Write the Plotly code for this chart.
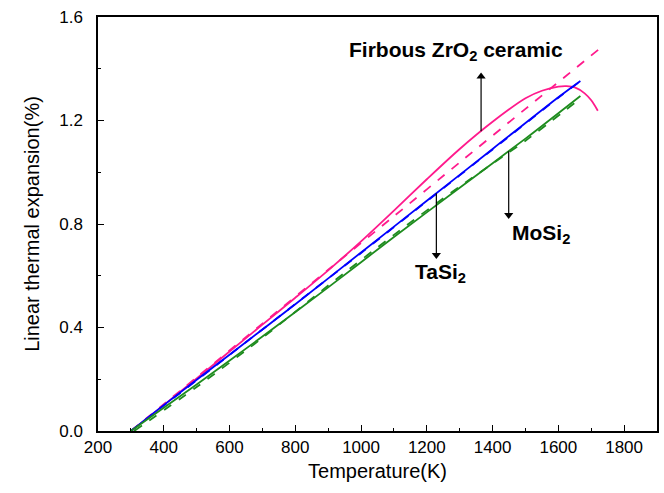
import numpy as np
import plotly.graph_objects as go

# Fibrous ZrO2 ceramic (measured, solid) and fit (dashed)
zro2_T = [300, 400, 500, 600, 700, 800, 900, 1000, 1100, 1200, 1300, 1400, 1500, 1550, 1600, 1625, 1650, 1680, 1700, 1720]
zro2_E = [0.0, 0.10, 0.203, 0.307, 0.411, 0.515, 0.621, 0.733, 0.852, 0.973, 1.09, 1.195, 1.286, 1.315, 1.331, 1.333, 1.328, 1.305, 1.278, 1.238]
zro2_fit_T = [300, 500, 700, 900, 1100, 1300, 1500, 1721]
zro2_fit_E = [0.0, 0.207, 0.415, 0.623, 0.830, 1.038, 1.245, 1.473]

# TaSi2 (solid) and fit (dashed)
tasi_T = [300, 400, 600, 800, 1000, 1200, 1400, 1600, 1667]
tasi_E = [0.0, 0.10, 0.295, 0.49, 0.69, 0.89, 1.09, 1.29, 1.353]
tasi_fit_T = [300, 400, 600, 800, 1000, 1200, 1400, 1600, 1665]
tasi_fit_E = [0.0, 0.098, 0.294, 0.491, 0.688, 0.888, 1.088, 1.288, 1.350]

# MoSi2 (solid) and fit (dashed)
mosi_T = [300, 500, 700, 900, 1100, 1300, 1500, 1667]
mosi_E = [0.0, 0.18, 0.365, 0.555, 0.75, 0.94, 1.13, 1.295]
mosi_fit_T = [310, 500, 700, 900, 1100, 1300, 1500, 1655]
mosi_fit_E = [0.0, 0.17, 0.36, 0.562, 0.758, 0.945, 1.122, 1.273]

PINK = "#FF1A8C"
BLUE = "#0000FF"
GREEN = "#1E8C1E"
FONT = "Arial, Liberation Sans, sans-serif"

fig = go.Figure()
series = [
    (zro2_T, zro2_E, PINK, "solid"),
    (zro2_fit_T, zro2_fit_E, PINK, "dash"),
    (tasi_T, tasi_E, BLUE, "solid"),
    (tasi_fit_T, tasi_fit_E, BLUE, "dash"),
    (mosi_T, mosi_E, GREEN, "solid"),
    (mosi_fit_T, mosi_fit_E, GREEN, "dash"),
]
for x, y, c, d in series:
    fig.add_trace(go.Scatter(x=x, y=y, mode="lines",
                             line=dict(color=c, width=1.8, dash=d, shape="spline", smoothing=0.8),
                             showlegend=False, hoverinfo="skip"))

# Arrows: tail on the curve, head away from it (drawn as line + triangle marker)
arrows = [
    (1365, np.interp(1365, zro2_T, zro2_E), 1.37, "triangle-up"),
    (1229, np.interp(1229, tasi_T, tasi_E), 0.68, "triangle-down"),
    (1449, np.interp(1449, mosi_T, mosi_E), 0.835, "triangle-down"),
]
for xa, ytail, yhead, sym in arrows:
    fig.add_trace(go.Scatter(x=[xa, xa], y=[ytail, yhead], mode="lines",
                             line=dict(color="black", width=1.2),
                             showlegend=False, hoverinfo="skip"))
    fig.add_trace(go.Scatter(x=[xa], y=[yhead], mode="markers",
                             marker=dict(symbol=sym, size=8, color="black"),
                             showlegend=False, hoverinfo="skip"))

labels = [
    ("Firbous ZrO<sub>2</sub> ceramic", 1290, 1.47),
    ("TaSi<sub>2</sub>", 1242, 0.612),
    ("MoSi<sub>2</sub>", 1547, 0.760),
]
for t, x, y in labels:
    fig.add_annotation(x=x, y=y, xref="x", yref="y", text="<b>" + t + "</b>",
                       showarrow=False, font=dict(family=FONT, size=21, color="black"))

fig.update_layout(
    width=664, height=493,
    margin=dict(l=98, r=5, t=17, b=62),
    paper_bgcolor="white", plot_bgcolor="white",
    font=dict(family=FONT, size=17, color="black"),
)
fig.update_xaxes(range=[200, 1900], tickvals=[200, 400, 600, 800, 1000, 1200, 1400, 1600, 1800],
                 showgrid=False, zeroline=False, showline=True, linecolor="black", linewidth=1.5,
                 mirror=True, ticks="inside", ticklen=6, tickwidth=1.3, tickcolor="black",
                 minor=dict(ticks="inside", ticklen=3.5, tickwidth=1.2, tickcolor="black", dtick=100),
                 title=dict(text="Temperature(K)", font=dict(size=20), standoff=8),
                 tickfont=dict(size=17))
fig.update_yaxes(range=[0, 1.6], tickvals=[0.0, 0.4, 0.8, 1.2, 1.6], tickformat=".1f",
                 showgrid=False, zeroline=False, showline=True, linecolor="black", linewidth=1.5,
                 mirror=True, ticks="inside", ticklen=6, tickwidth=1.3, tickcolor="black",
                 minor=dict(ticks="inside", ticklen=3.5, tickwidth=1.2, tickcolor="black", dtick=0.2),
                 title=dict(text="Linear thermal expansion(%)", font=dict(size=20), standoff=14),
                 tickfont=dict(size=17), ticklabelstandoff=10)

fig.write_html("out.html")
